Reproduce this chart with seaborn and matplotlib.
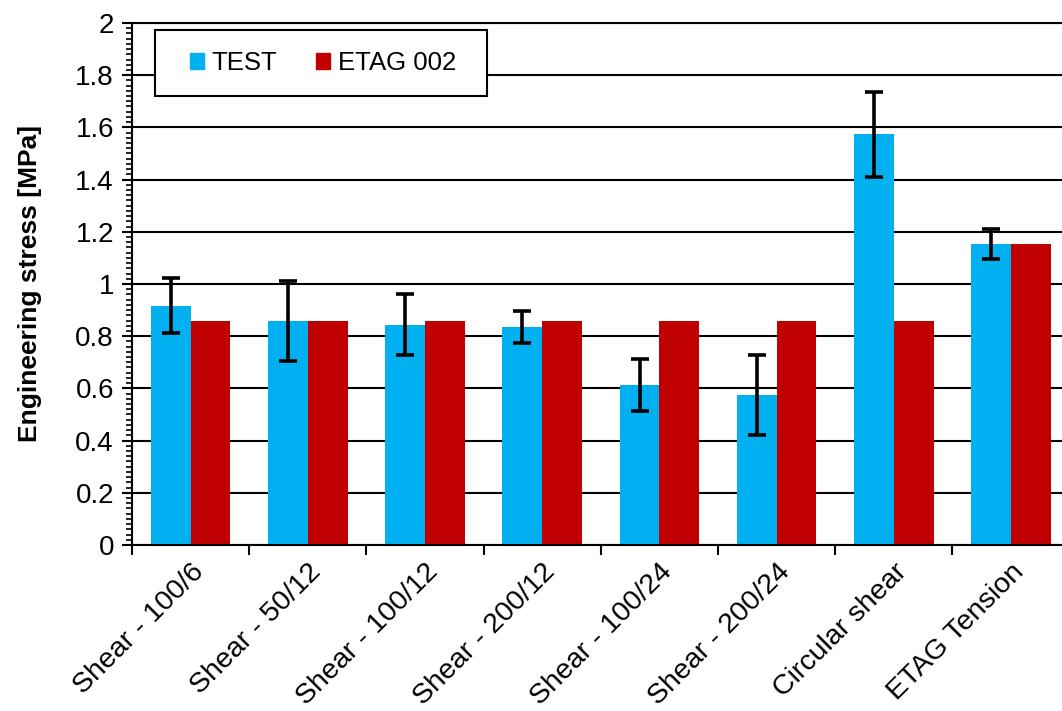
import numpy as np
import matplotlib
matplotlib.use("Agg")
import matplotlib.pyplot as plt
from matplotlib.patches import Rectangle
from matplotlib.ticker import MultipleLocator, FixedLocator
import pandas as pd
import seaborn as sns

categories = ["Shear - 100/6", "Shear - 50/12", "Shear - 100/12", "Shear - 200/12",
              "Shear - 100/24", "Shear - 200/24", "Circular shear", "ETAG Tension"]
test_vals = [0.916, 0.858, 0.844, 0.834, 0.613, 0.575, 1.573, 1.153]
test_err = [0.105, 0.155, 0.118, 0.062, 0.099, 0.152, 0.163, 0.056]
etag_vals = [0.858, 0.858, 0.858, 0.858, 0.858, 0.858, 0.858, 1.153]
series = ["TEST", "ETAG 002"]
colors = ["#00B0F0", "#C00000"]
ytick_vals = [0, 0.2, 0.4, 0.6, 0.8, 1.0, 1.2, 1.4, 1.6, 1.8, 2.0]
ytick_labels = ["0", "0.2", "0.4", "0.6", "0.8", "1", "1.2", "1.4", "1.6", "1.8", "2"]

df = pd.DataFrame({
    "case": categories * 2,
    "series": [series[0]] * len(categories) + [series[1]] * len(categories),
    "stress": test_vals + etag_vals,
})

sns.set_style("white")
plt.rcParams["font.family"] = ["Liberation Sans", "DejaVu Sans"]
plt.rcParams["text.color"] = "black"
plt.rcParams["axes.labelcolor"] = "black"
plt.rcParams["xtick.color"] = "black"
plt.rcParams["ytick.color"] = "black"

fig = plt.figure(figsize=(10.62, 7.11), dpi=100)
ax = fig.add_axes([0.1243, 0.2335, 0.8829, 0.7342])

sns.barplot(data=df, x="case", y="stress", hue="series", palette=colors,
            width=0.68, gap=0, saturation=1, errorbar=None, linewidth=0,
            ax=ax, zorder=2)

# error bars on the TEST bars, placed from the drawn patches
bars = [p for p in ax.patches if p.get_height() > 0][:len(categories)]
xs = [p.get_x() + p.get_width() / 2 for p in bars]
ax.errorbar(xs, test_vals, yerr=test_err, fmt="none", ecolor="black",
            elinewidth=2.6, capsize=6.5, capthick=2.6, zorder=3)

ax.set_xlim(-0.5, len(categories) - 0.5)
ax.set_ylim(0, 2)
ax.set_yticks(ytick_vals, ytick_labels)
ax.yaxis.set_minor_locator(MultipleLocator(0.02))
ax.xaxis.set_minor_locator(FixedLocator(np.arange(-0.5, len(categories), 1.0)))

ax.grid(axis="y", which="major", color="black", linewidth=1.5)
ax.set_axisbelow(True)
for s in ["left", "bottom", "top"]:
    ax.spines[s].set_color("black")
    ax.spines[s].set_linewidth(1.5)
ax.spines["right"].set_visible(False)

ax.tick_params(axis="y", which="major", direction="out", length=7, width=1.5,
               labelsize=20, pad=6, left=True)
ax.tick_params(axis="y", which="minor", direction="out", length=4.5, width=1.2, left=True)
ax.tick_params(axis="x", which="major", length=0, labelsize=20.5, pad=10)
ax.tick_params(axis="x", which="minor", direction="out", length=7, width=1.5, bottom=True)
plt.setp(ax.get_xticklabels(), rotation=45, ha="right", rotation_mode="anchor")

ax.set_xlabel("")
ax.set_ylabel("Engineering stress [MPa]", fontsize=19, fontweight="bold", labelpad=24)

# legend box
ax.get_legend().remove()
ax.add_patch(Rectangle((0.0245, 0.860), 0.354, 0.1266, transform=ax.transAxes,
                       facecolor="white", edgecolor="black", linewidth=1.5, zorder=4))
handles = [plt.Rectangle((0, 0), 1, 1, color=c) for c in colors]
leg = ax.legend(handles, series, loc="center", bbox_to_anchor=(0.2035, 0.923),
                ncol=2, frameon=False, fontsize=18.5, handlelength=0.55, handleheight=0.55,
                handletextpad=0.3, columnspacing=1.5)
leg.set_zorder(5)

fig.savefig("out.png", dpi=100)
